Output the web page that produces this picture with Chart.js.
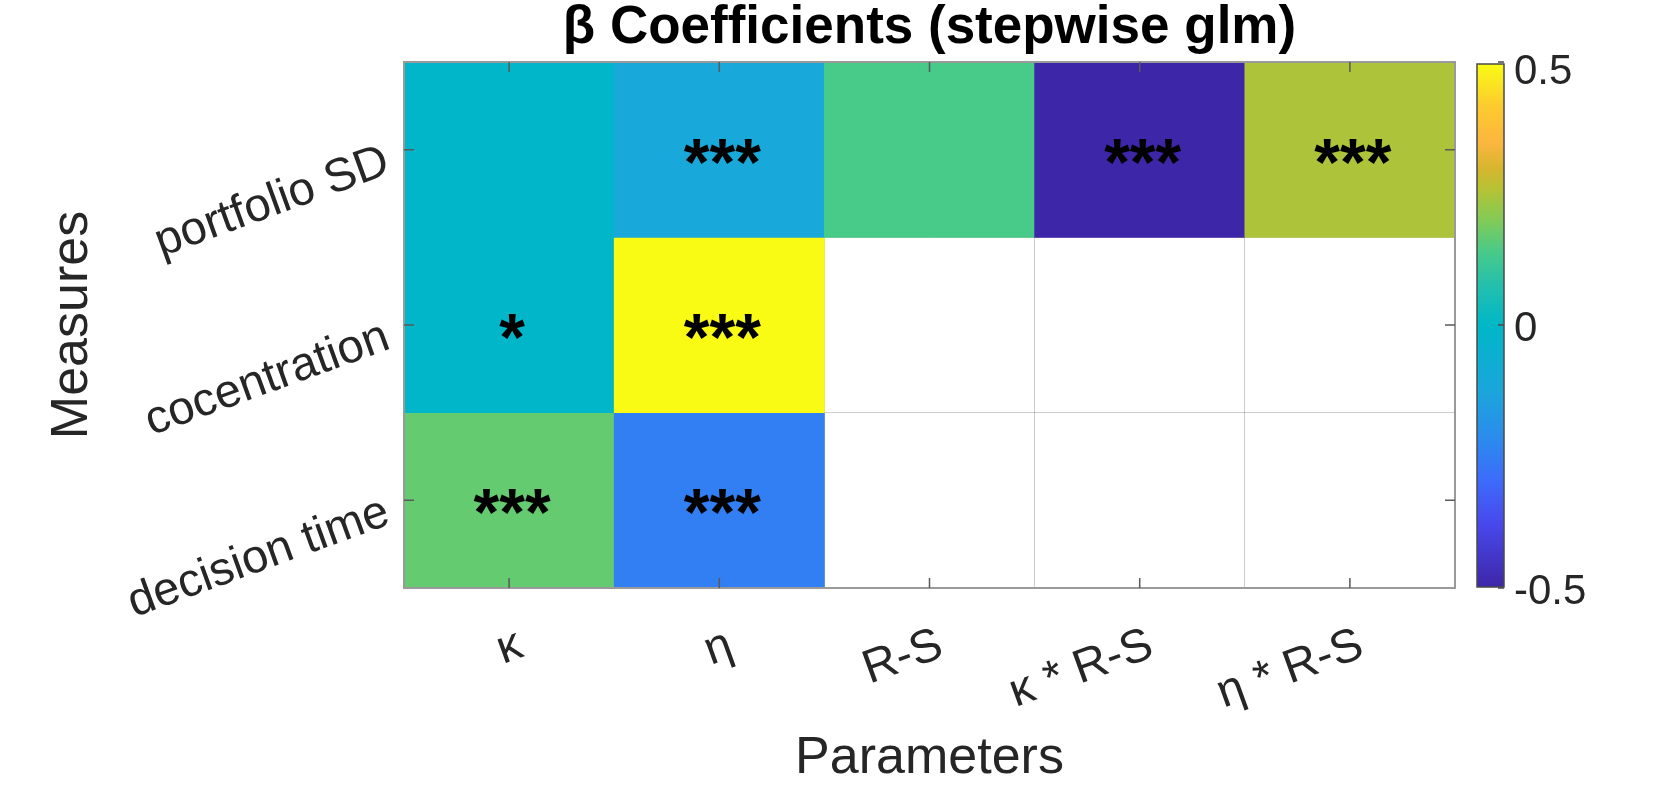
<!DOCTYPE html>
<html lang="en">
<head>
  <meta charset="UTF-8">
  <title>Beta coefficients</title>
  <script src="https://cdn.jsdelivr.net/npm/chart.js@4"></script>
  <style>
    html, body { margin: 0; padding: 0; background: #fff; }
    #wrap { width: 1678px; height: 808px; position: relative; }
  </style>
</head>
<body>
  <div id="wrap">
    <canvas id="betaChart"></canvas>
  </div>

<script>
// categories
const parameters = ['κ', 'η', 'R-S', 'κ * R-S', 'η * R-S'];
const measures = ['portfolio SD', 'cocentration', 'decision time'];

// beta values per measure (null = term not kept by stepwise glm)
const betaPortfolioSD = [-0.01, -0.11, 0.14, -0.50, 0.25];
const betaCocentration = [-0.01, 0.50, null, null, null];
const betaDecisionTime = [0.17, -0.25, null, null, null];

// significance stars
const sigPortfolioSD = ['', '***', '', '***', '***'];
const sigCocentration = ['*', '***', '', '', ''];
const sigDecisionTime = ['***', '***', '', '', ''];

// colour limits and colorbar tick labels
const climMin = -0.5;
const climMax = 0.5;
const colorbarTicks = [-0.5, 0, 0.5];

const rows = [betaPortfolioSD, betaCocentration, betaDecisionTime];
const stars = [sigPortfolioSD, sigCocentration, sigDecisionTime];

// parula-like colormap (position, hex)
const parulaStops = [
  [0.00, '#3E26A8'], [0.12, '#4848EC'], [0.20, '#3D6AFB'], [0.27, '#2E86F0'],
  [0.375, '#1BA6DC'], [0.50, '#00B7C7'], [0.58, '#25C0AC'], [0.64, '#48CA89'],
  [0.70, '#80CB58'], [0.76, '#B6C234'], [0.80, '#D6B62E'], [0.85, '#FBB63F'],
  [0.92, '#FCCB2E'], [1.00, '#F9FB15']
];

function hexToRgb(h) {
  return [parseInt(h.substr(1, 2), 16), parseInt(h.substr(3, 2), 16), parseInt(h.substr(5, 2), 16)];
}

function parula(v) {
  let t = (v - climMin) / (climMax - climMin);
  t = Math.max(0, Math.min(1, t));
  for (let i = 1; i < parulaStops.length; i++) {
    if (t <= parulaStops[i][0]) {
      const a = parulaStops[i - 1], b = parulaStops[i];
      const f = (t - a[0]) / (b[0] - a[0]);
      const ca = hexToRgb(a[1]), cb = hexToRgb(b[1]);
      const c = ca.map((x, k) => Math.round(x + (cb[k] - x) * f));
      return `rgb(${c[0]}, ${c[1]}, ${c[2]})`;
    }
  }
  return parulaStops[parulaStops.length - 1][1];
}

const FONT = '"Liberation Sans", Arial, Helvetica, sans-serif';
Chart.defaults.font.family = FONT;
Chart.defaults.color = '#262626';

// one floating-bar dataset per measure row, each cell spans [row, row+1]
const datasets = rows.map((vals, r) => ({
  label: measures[r],
  data: vals.map(v => (v === null ? null : [r, r + 1])),
  backgroundColor: vals.map(v => (v === null ? 'transparent' : parula(v))),
  borderWidth: 0,
  grouped: false,
  barPercentage: 1,
  categoryPercentage: 1
}));

const gridColor = 'rgba(0, 0, 0, 0.2)';

// stars, tick labels, box, colorbar
const heatmapDecor = {
  id: 'heatmapDecor',
  afterDatasetsDraw(chart) {
    const ctx = chart.ctx, x = chart.scales.x, y = chart.scales.y;
    ctx.save();
    ctx.font = 'bold 66px ' + FONT;
    ctx.fillStyle = '#000';
    ctx.textAlign = 'center';
    ctx.textBaseline = 'alphabetic';
    stars.forEach((row, r) => {
      row.forEach((s, c) => {
        if (!s) return;
        ctx.fillText(s, x.getPixelForValue(c) + 3, y.getPixelForValue(r + 0.5) + 35);
      });
    });
    ctx.restore();
  },
  afterDraw(chart) {
    const ctx = chart.ctx, x = chart.scales.x, y = chart.scales.y, cb = chart.scales.cb;
    const area = chart.chartArea;
    const rot = -20 * Math.PI / 180;
    ctx.save();

    // axes box
    ctx.strokeStyle = '#9a9a9a';
    ctx.lineWidth = 2;
    ctx.strokeRect(area.left, area.top, area.right - area.left, area.bottom - area.top);

    // inner tick marks
    ctx.strokeStyle = '#5a5a5a';
    ctx.lineWidth = 1.5;
    ctx.beginPath();
    parameters.forEach((p, i) => {
      const px = x.getPixelForValue(i);
      ctx.moveTo(px, area.bottom); ctx.lineTo(px, area.bottom - 10);
      ctx.moveTo(px, area.top); ctx.lineTo(px, area.top + 10);
    });
    measures.forEach((m, r) => {
      const py = y.getPixelForValue(r + 0.5);
      ctx.moveTo(area.left, py); ctx.lineTo(area.left + 10, py);
      ctx.moveTo(area.right, py); ctx.lineTo(area.right - 10, py);
    });
    ctx.stroke();

    // tick labels, rotated like the original
    ctx.font = '47px ' + FONT;
    ctx.fillStyle = '#262626';
    ctx.textAlign = 'right';
    ctx.textBaseline = 'alphabetic';
    parameters.forEach((p, i) => {
      ctx.save();
      ctx.translate(x.getPixelForValue(i) + 16, area.bottom + 68);
      ctx.rotate(rot);
      ctx.fillText(p, 0, 0);
      ctx.restore();
    });
    measures.forEach((m, r) => {
      ctx.save();
      ctx.translate(area.left - 12, y.getPixelForValue(r + 0.5) + 23);
      ctx.rotate(rot);
      ctx.fillText(m, 0, 0);
      ctx.restore();
    });

    // colorbar
    const cx0 = cb.left + 22, cx1 = cb.left + 49;
    const cyTop = cb.getPixelForValue(climMax) + 2, cyBot = cb.getPixelForValue(climMin) - 1;
    const grad = ctx.createLinearGradient(0, cyBot, 0, cyTop);
    parulaStops.forEach(s => grad.addColorStop(s[0], s[1]));
    ctx.fillStyle = grad;
    ctx.fillRect(cx0, cyTop, cx1 - cx0, cyBot - cyTop);
    ctx.strokeStyle = '#4a4a4a';
    ctx.lineWidth = 1.5;
    ctx.strokeRect(cx0, cyTop, cx1 - cx0, cyBot - cyTop);
    ctx.beginPath();
    colorbarTicks.forEach(v => {
      const py = cb.getPixelForValue(v);
      ctx.moveTo(cx1, py); ctx.lineTo(cx1 - 6, py);
    });
    ctx.stroke();

    // colorbar labels
    ctx.font = '42px ' + FONT;
    ctx.fillStyle = '#262626';
    ctx.textAlign = 'left';
    ctx.textBaseline = 'middle';
    colorbarTicks.forEach(v => {
      const txt = v === 0 ? '0' : v.toFixed(1);
      const dy = v === climMax ? 10 : 4;
      ctx.fillText(txt, cb.left + 59, cb.getPixelForValue(v) + dy);
    });

    ctx.restore();
  }
};

const config = {
  type: 'bar',
  data: { labels: parameters, datasets: datasets },
  options: {
    responsive: true,
    maintainAspectRatio: false,
    animation: false,
    devicePixelRatio: 1,
    layout: { padding: 0 },
    plugins: {
      legend: { display: false },
      tooltip: { enabled: false },
      title: {
        display: true,
        fullSize: false,
        text: 'β Coefficients (stepwise glm)',
        color: '#000',
        font: { size: 53, weight: 'bold', lineHeight: 1.0 },
        padding: { top: 2, bottom: 7 }
      }
    },
    scales: {
      x: {
        type: 'category',
        offset: true,
        z: 1,
        grid: { offset: true, color: gridColor, drawTicks: false },
        border: { display: false },
        ticks: { display: false },
        title: {
          display: true,
          text: 'Parameters',
          font: { size: 52 },
          padding: { top: 0, bottom: 18 }
        },
        afterFit(scale) { scale.height = 220; }
      },
      y: {
        type: 'linear',
        min: 0,
        max: 3,
        reverse: true,
        z: 1,
        grid: { color: gridColor, drawTicks: false },
        border: { display: false },
        ticks: { display: false },
        afterBuildTicks(scale) {
          scale.ticks = [0, 1, 2, 3].map(v => ({ value: v }));
        },
        title: {
          display: true,
          text: 'Measures',
          font: { size: 52 },
          padding: { top: 41, bottom: 0 }
        },
        afterFit(scale) { scale.width = 404; }
      },
      cb: {
        type: 'linear',
        position: 'right',
        min: climMin,
        max: climMax,
        grid: { display: false, drawTicks: false },
        border: { display: false },
        ticks: { display: false },
        afterFit(scale) { scale.width = 223; }
      }
    }
  },
  plugins: [heatmapDecor]
};

new Chart(document.getElementById('betaChart'), config);
</script>
</body>
</html>
